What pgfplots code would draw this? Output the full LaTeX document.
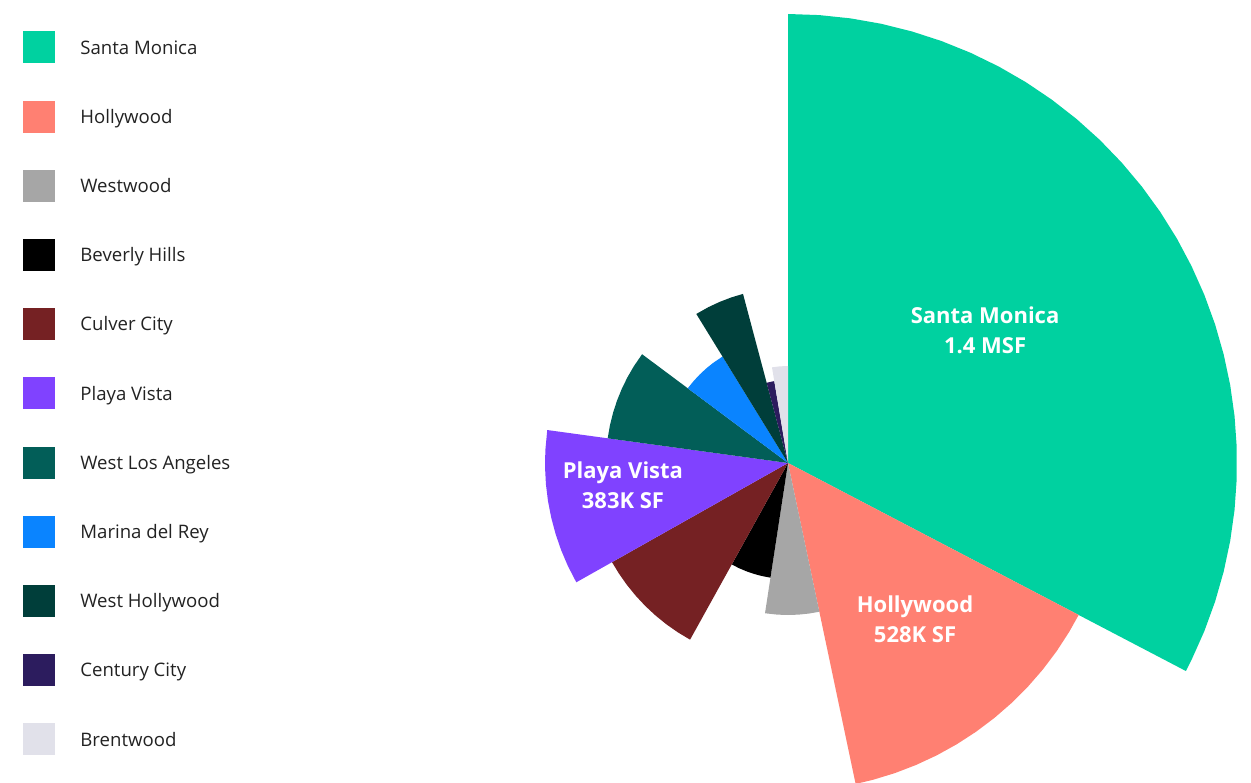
\documentclass[border=0pt]{standalone}
\usepackage{fontspec}
\setmainfont{Open Sans}
\usepackage{pgfplots}
\pgfplotsset{compat=1.18}
\usepgfplotslibrary{polar}
\definecolor{cSM}{RGB}{0,209,160}
\definecolor{cHO}{RGB}{255,128,114}
\definecolor{cWW}{RGB}{166,166,166}
\definecolor{cBH}{RGB}{0,0,0}
\definecolor{cCC}{RGB}{117,33,35}
\definecolor{cPV}{RGB}{128,66,255}
\definecolor{cWLA}{RGB}{2,94,88}
\definecolor{cMDR}{RGB}{10,132,255}
\definecolor{cWH}{RGB}{0,62,58}
\definecolor{cCEN}{RGB}{44,28,94}
\definecolor{cBR}{RGB}{225,225,234}
\definecolor{legtext}{RGB}{34,34,34}
\tikzset{lbl/.style={text=white, font=\bfseries\fontsize{11}{15}\selectfont, align=center}}
\begin{document}
\begin{tikzpicture}
\begin{polaraxis}[
  at={(394pt,159.5pt)}, anchor=center,
  width=500pt, height=500pt, scale only axis,
  xmin=0, xmax=360, ymin=0, ymax=500,
  hide axis, clip=false,
  legend style={at={(-382.5pt,216pt)}, anchor=north west, draw=none, fill=none,
    inner sep=0pt, row sep=18.6pt, column sep=0pt,
    font=\fontsize{9.3}{11}\selectfont,
    nodes={inner sep=0pt, text=legtext, text height=6.6pt, text depth=0pt}},
  legend cell align=left,
  legend image code/.code={\fill[#1] (0pt,-8pt) rectangle (16pt,8pt); \path[draw=none,fill=none] (16pt,-1pt) rectangle (28.5pt,1pt);},
]
% Santa Monica
\addplot[fill=cSM, draw=none] coordinates {(0,0) (90,449) (86,449) (82,449) (78,449) (74,449) (70,449) (66,449) (62,449) (58,449) (54,449) (50,449) (46,449) (42,449) (38,449) (34,449) (30,449) (26,449) (22,449) (18,449) (14,449) (10,449) (6,449) (2,449) (-2,449) (-6,449) (-10,449) (-14,449) (-18,449) (-22,449) (-26,449) (-27.6,449) (0,0)};
\addlegendentry{Santa Monica}
% Hollywood
\addplot[fill=cHO, draw=none] coordinates {(0,0) (-27.6,328) (-31,328) (-35,328) (-39,328) (-43,328) (-47,328) (-51,328) (-55,328) (-59,328) (-63,328) (-67,328) (-71,328) (-75,328) (-78.1,328) (0,0)};
\addlegendentry{Hollywood}
% Westwood
\addplot[fill=cWW, draw=none] coordinates {(0,0) (-78.1,152) (-82,152) (-86,152) (-90,152) (-94,152) (-98.7,152) (0,0)};
\addlegendentry{Westwood}
% Beverly Hills
\addplot[fill=cBH, draw=none] coordinates {(0,0) (-98.7,116) (-103,116) (-107,116) (-111,116) (-115,116) (-119,116) (0,0)};
\addlegendentry{Beverly Hills}
% Culver City
\addplot[fill=cCC, draw=none] coordinates {(0,0) (-119,202) (-123,202) (-127,202) (-131,202) (-135,202) (-139,202) (-143,202) (-147,202) (-150.6,202) (0,0)};
\addlegendentry{Culver City}
% Playa Vista
\addplot[fill=cPV, draw=none] coordinates {(0,0) (209.4,243) (205,243) (201,243) (197,243) (193,243) (189,243) (185,243) (181,243) (177,243) (172.2,243) (0,0)};
\addlegendentry{Playa Vista}
% West Los Angeles
\addplot[fill=cWLA, draw=none] coordinates {(0,0) (172.2,182) (168,182) (164,182) (160,182) (156,182) (152,182) (148,182) (143.3,182) (0,0)};
\addlegendentry{West Los Angeles}
% Marina del Rey
\addplot[fill=cMDR, draw=none] coordinates {(0,0) (143.3,125) (139,125) (135,125) (131,125) (127,125) (121.6,125) (0,0)};
\addlegendentry{Marina del Rey}
% West Hollywood
\addplot[fill=cWH, draw=none] coordinates {(0,0) (121.6,175) (117,175) (113,175) (109,175) (104.9,175) (0,0)};
\addlegendentry{West Hollywood}
% Century City
\addplot[fill=cCEN, draw=none] coordinates {(0,0) (104.9,83) (102,83) (99.5,83) (0,0)};
\addlegendentry{Century City}
% Brentwood
\addplot[fill=cBR, draw=none] coordinates {(0,0) (99.5,97) (95,97) (90,97) (0,0)};
\addlegendentry{Brentwood}
\node[lbl] at (axis cs:34.0,237.7) {Santa Monica\\1.4 MSF};
\node[lbl] at (axis cs:-50.8,201) {Hollywood\\528K SF};
\node[lbl] at (axis cs:187.6,166.5) {Playa Vista\\383K SF};
\end{polaraxis}
\pgfresetboundingbox
\path[use as bounding box] (0,0) rectangle (625.5pt,391pt);
\end{tikzpicture}
\end{document}
